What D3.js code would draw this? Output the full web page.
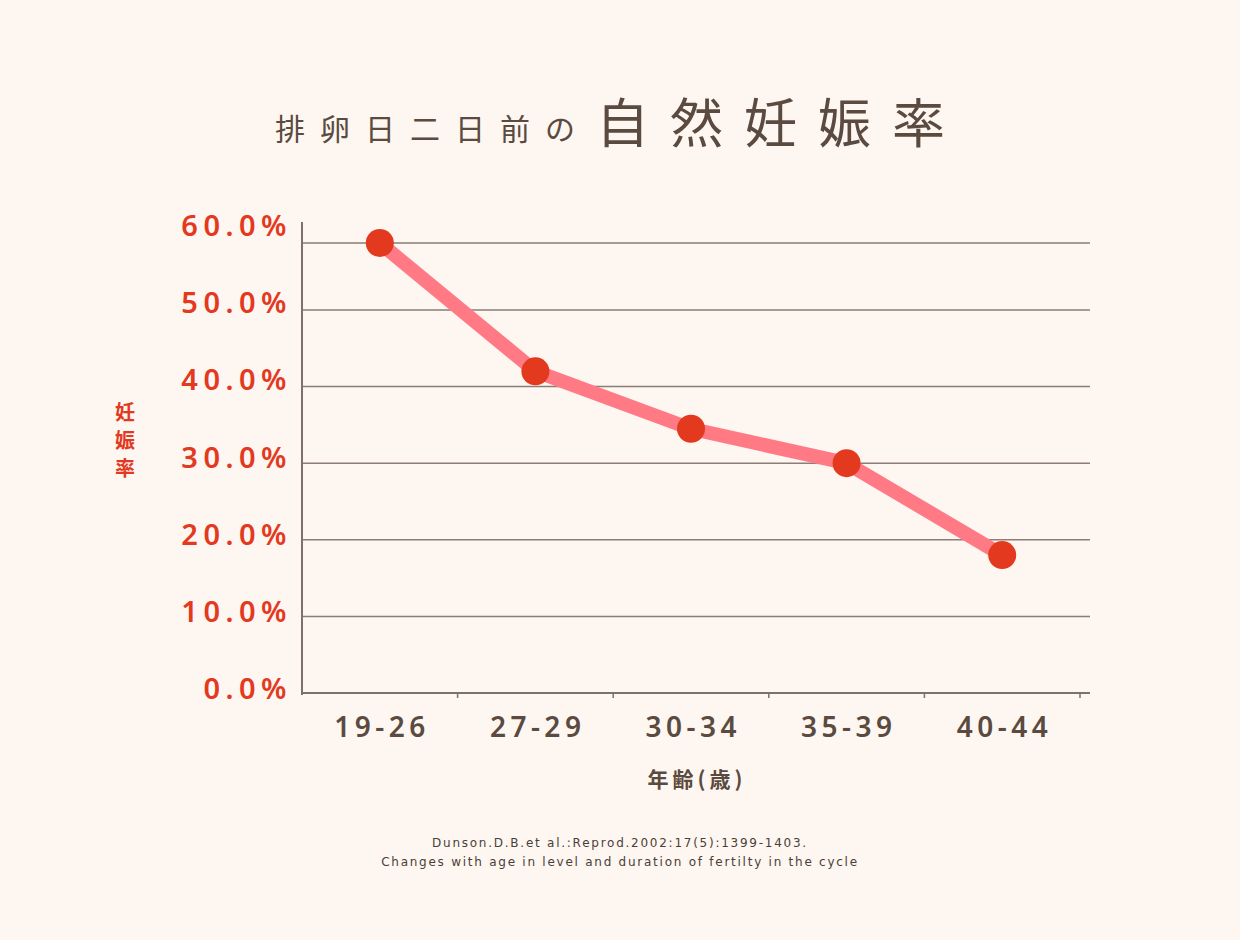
<!DOCTYPE html>
<html><head><meta charset="utf-8">
<script src="https://cdn.jsdelivr.net/npm/d3@7"></script>
<style>
html,body{margin:0;padding:0;background:#fef6f0;}
svg{display:block;}
</style></head>
<body>
<svg id="chart" width="1240" height="940"></svg>
<script>
const categories = ["19-26","27-29","30-34","35-39","40-44"];
const values = [60.0, 42.0, 34.5, 30.0, 18.0];
const yTicks = [0,10,20,30,40,50,60];
const yTickLabels = ["0.0%","10.0%","20.0%","30.0%","40.0%","50.0%","60.0%"];
const titleSmall = "排卵日二日前の";
const titleBig = "自然妊娠率";
const xTitle = "年齢(歳)";
const yTitle = ["妊","娠","率"];
const citation = ["Dunson.D.B.et al.:Reprod.2002:17(5):1399-1403.","Changes with age in level and duration of fertilty in the cycle"];

const svg = d3.select("#chart");
const brown = "#5a4a40", red = "#e2391f", pink = "#ff7a85", axisC = "#7d716a";
const fontCJK = "'Noto Sans CJK JP','Noto Sans',sans-serif";
const fontLat = "'Noto Sans','DejaVu Sans',sans-serif";

svg.append("rect").attr("width",1240).attr("height",940).attr("fill","#fef6f0");

const x = d3.scaleBand().domain(categories).range([302,1080]);
const y = d3.scaleLinear().domain([0,50,60]).range([693,310,243]);
const yLab = d3.scaleLinear().domain([0,60]).range([689,226]);

// gridlines
svg.append("g").selectAll("line").data(yTicks.filter(d=>d>0)).join("line")
  .attr("x1",302).attr("x2",1090).attr("y1",d=>y(d)).attr("y2",d=>y(d))
  .attr("stroke","#8a7e77").attr("stroke-width",1.5);

// x axis
const xa = svg.append("g").attr("transform","translate(0,"+y(0)+")")
  .call(d3.axisBottom(x).tickSize(0).tickFormat(""));
xa.select(".domain").remove();
xa.append("line").attr("x1",302).attr("x2",1090).attr("stroke",axisC).attr("stroke-width",2);
xa.selectAll(".tk").data(categories.map(c=>x(c)+x.bandwidth())).join("line")
  .attr("x1",d=>d).attr("x2",d=>d).attr("y1",0).attr("y2",5).attr("stroke",axisC).attr("stroke-width",1.5);
svg.append("g").selectAll("text").data(categories).join("text")
  .attr("x",d=>x(d)+x.bandwidth()/2+2.25).attr("y",737)
  .attr("text-anchor","middle").attr("fill",brown)
  .attr("font-family",fontLat).attr("font-size",28).attr("font-weight",600)
  .attr("letter-spacing",4.5).text(d=>d);

// y axis line
svg.append("line").attr("x1",302).attr("x2",302).attr("y1",222).attr("y2",695)
  .attr("stroke",axisC).attr("stroke-width",2);
svg.append("g").selectAll("text").data(yTicks).join("text")
  .attr("x",292).attr("y",d=>yLab(d)+10)
  .attr("text-anchor","end").attr("fill",red)
  .attr("font-family",fontLat).attr("font-size",29).attr("font-weight",600)
  .attr("letter-spacing",5.5).text((d,i)=>yTickLabels[i]);

// line
const line = d3.line().x((d,i)=>x(categories[i])+x.bandwidth()/2).y(d=>y(d));
svg.append("path").datum(values).attr("d",line).attr("fill","none")
  .attr("stroke",pink).attr("stroke-width",14).attr("stroke-linejoin","round");
svg.append("g").selectAll("circle").data(values).join("circle")
  .attr("cx",(d,i)=>x(categories[i])+x.bandwidth()/2).attr("cy",d=>y(d))
  .attr("r",14).attr("fill",red);

// titles
svg.append("text").attr("x",275).attr("y",140).attr("fill",brown)
  .attr("font-family",fontCJK).attr("font-size",30).attr("letter-spacing",15)
  .text(titleSmall);
svg.append("text").attr("x",596).attr("y",143).attr("fill",brown)
  .attr("font-family",fontCJK).attr("font-size",53).attr("letter-spacing",21)
  .text(titleBig);

svg.append("text").attr("x",697).attr("y",787).attr("text-anchor","middle")
  .attr("fill",brown).attr("font-family",fontCJK).attr("font-size",21).attr("font-weight",700)
  .attr("letter-spacing",4).text(xTitle);

svg.append("g").selectAll("text").data(yTitle).join("text")
  .attr("x",125).attr("y",(d,i)=>420+i*28).attr("text-anchor","middle")
  .attr("fill",red).attr("font-family",fontCJK).attr("font-size",20).attr("font-weight",700)
  .text(d=>d);

svg.append("g").selectAll("text").data(citation).join("text")
  .attr("x",620).attr("y",(d,i)=>847+i*19).attr("text-anchor","middle")
  .attr("fill","#4a3f38").attr("font-family","'DejaVu Sans',sans-serif").attr("font-size",12)
  .attr("letter-spacing",1.75).text(d=>d);
</script>
</body></html>
